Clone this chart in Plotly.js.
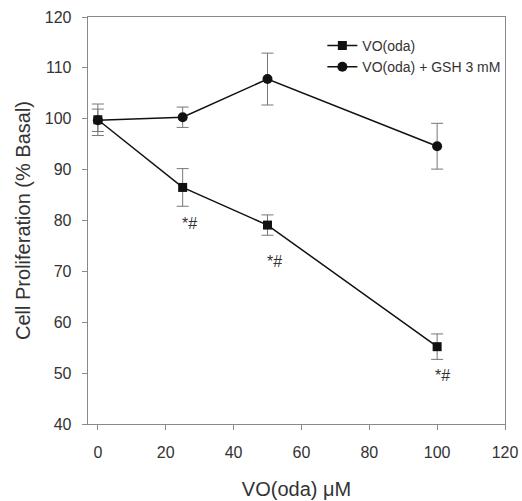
<!DOCTYPE html>
<html>
<head>
<meta charset="utf-8">
<script src="https://cdn.plot.ly/plotly-3.0.1.min.js"></script>
<style>html,body{margin:0;padding:0;background:#fff;}#chart{width:522px;height:501px;}</style>
</head>
<body>
<div id="chart"></div>
<script>
const doses = [0, 25, 50, 100];
const voOda = [99.8, 86.5, 79.1, 55.2];
const voOdaErr = [3.1, 3.7, 2.0, 2.5];
const voOdaGsh = [99.7, 100.3, 107.8, 94.6];
const voOdaGshErr = [2.2, 2.0, 5.1, 4.5];
const sigX = [27, 52, 101.5];
const sigY = [79.4, 72, 49.6];
const sigText = ["*#", "*#", "*#"];

const axisColor = '#8a8a8a';
const textColor = '#333333';

const traces = [
  {
    x: doses, y: voOda, name: 'VO(oda)', type: 'scatter', mode: 'lines+markers',
    line: {color: '#111', width: 1.5},
    marker: {symbol: 'square', size: 9, color: '#111'},
    error_y: {type: 'data', array: voOdaErr, visible: true, color: '#777', thickness: 1, width: 6}
  },
  {
    x: doses, y: voOdaGsh, name: 'VO(oda) + GSH 3 mM', type: 'scatter', mode: 'lines+markers',
    line: {color: '#111', width: 1.5},
    marker: {symbol: 'circle', size: 10, color: '#111'},
    error_y: {type: 'data', array: voOdaGshErr, visible: true, color: '#777', thickness: 1, width: 6}
  }
];

const annotations = sigX.map((x, i) => ({
  x: x, y: sigY[i], xref: 'x', yref: 'y', text: sigText[i], showarrow: false,
  font: {family: 'Liberation Sans, Arial, sans-serif', size: 16, color: textColor}
}));

const layout = {
  width: 522, height: 501,
  margin: {l: 88, r: 17, t: 17, b: 77},
  paper_bgcolor: '#fff', plot_bgcolor: '#fff',
  font: {family: 'Liberation Sans, Arial, sans-serif', color: textColor, size: 14},
  showlegend: true,
  legend: {x: 0.562, y: 0.968, xanchor: 'left', yanchor: 'top', bgcolor: 'rgba(0,0,0,0)',
    font: {size: 14, color: textColor}, tracegroupgap: 0, itemwidth: 30},
  xaxis: {
    range: [-2.9, 120], tickvals: [0, 20, 40, 60, 80, 100, 120],
    showgrid: false, zeroline: false, showline: true, linecolor: axisColor, linewidth: 1.3,
    mirror: true, ticks: 'outside', ticklen: 5, tickcolor: axisColor,
    ticklabelstandoff: 8,
    tickfont: {size: 16, color: textColor},
    title: {text: 'VO(oda) μM', font: {size: 20, color: textColor}, standoff: 22}
  },
  yaxis: {
    range: [40, 120], tickvals: [40, 50, 60, 70, 80, 90, 100, 110, 120],
    showgrid: false, zeroline: false, showline: true, linecolor: axisColor, linewidth: 1.3,
    mirror: true, ticks: 'outside', ticklen: 5, tickcolor: axisColor,
    ticklabelstandoff: 7,
    tickfont: {size: 16, color: textColor},
    title: {text: 'Cell Proliferation (% Basal)', font: {size: 20, color: textColor}, standoff: 8}
  },
  annotations: annotations
};

Plotly.newPlot('chart', traces, layout, {displayModeBar: false, staticPlot: true});
</script>
</body>
</html>
